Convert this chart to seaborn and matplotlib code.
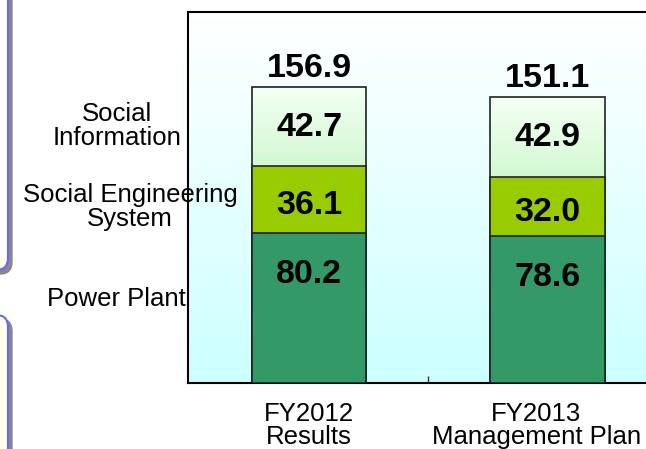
import numpy as np
import pandas as pd
import seaborn as sns
import matplotlib.pyplot as plt
from matplotlib.patches import FancyBboxPatch
from matplotlib.colors import LinearSegmentedColormap

# data
periods = ["FY2012\nResults", "FY2013\nManagement Plan"]
power_plant = [80.2, 78.6]
social_eng = [36.1, 32.0]
social_info = [42.7, 42.9]
totals = [156.9, 151.1]
segments = ["Social\nInformation", "Social Engineering\nSystem", "Power Plant"]

df = pd.DataFrame({"period": periods, "power": power_plant,
                   "eng": social_eng, "info": social_info})
df["mid"] = df["power"] + df["eng"]
df["top"] = df["mid"] + df["info"]

sns.set_style("white")
plt.rcParams['font.family'] = ['Liberation Sans', 'DejaVu Sans']
plt.rcParams['text.color'] = 'black'

fig = plt.figure(figsize=(6.46, 4.49), dpi=100)
ax = fig.add_axes([188/646, 66/449, 481/646, 371/449])

# slide decoration boxes on the left edge
for (y0, y1, fc) in [(-50, 270, "white"), (315, 500, "#fffff0")]:
    sh = FancyBboxPatch((-60, 449 - y1 - 4), 72, y1 - y0, boxstyle="round,pad=0,rounding_size=12",
                        transform=None, fc="#888888", ec="#888888", lw=1, zorder=0)
    bx = FancyBboxPatch((-64, 449 - y1), 72, y1 - y0, boxstyle="round,pad=0,rounding_size=12",
                        transform=None, fc=fc, ec="#6666ff", lw=1.5, zorder=0)
    fig.patches.extend([sh, bx])

ymax = 199
# background gradient
grad = np.linspace(0, 1, 256).reshape(-1, 1)
bg_cmap = LinearSegmentedColormap.from_list("bg", ["#ccffff", "#ffffff"])
ax.imshow(grad, cmap=bg_cmap, aspect="auto", origin="lower",
          extent=[-0.508, 1.51, 0, ymax], zorder=0)

w = 0.48
sns.barplot(data=df, x="period", y="top", color="#e0ffe0", edgecolor="#222222",
            linewidth=1.2, width=w, saturation=1, ax=ax, zorder=2)
sns.barplot(data=df, x="period", y="mid", color="#99cc00", edgecolor="#222222",
            linewidth=1.2, width=w, saturation=1, ax=ax, zorder=3)
sns.barplot(data=df, x="period", y="power", color="#339966", edgecolor="#222222",
            linewidth=1.2, width=w, saturation=1, ax=ax, zorder=4)

# gradient on the top segment
seg_cmap = LinearSegmentedColormap.from_list("seg", ["#d2f9d2", "#f4fff4"])
for i, p in enumerate(ax.patches[:2]):
    p.set_facecolor("none")
    im = ax.imshow(grad, cmap=seg_cmap, aspect="auto", origin="lower",
                   extent=[i - w/2, i + w/2, df["mid"][i], df["top"][i]], zorder=1.5)
    im.set_clip_path(p)

for i in range(len(periods)):
    kw = dict(ha="center", va="center", fontsize=24.5, fontweight="bold", color="black", zorder=6)
    ax.text(i, totals[i] + 12, f"{totals[i]:.1f}", **kw)
    ax.text(i, df["mid"][i] + social_info[i] / 2 - 0.5, f"{social_info[i]:.1f}", **kw)
    ax.text(i, power_plant[i] + social_eng[i] / 2 - 3, f"{social_eng[i]:.1f}", **kw)
    ax.text(i, power_plant[i] - 22, f"{power_plant[i]:.1f}", **kw)

ax.set_xlim(-0.508, 1.51)
ax.set_ylim(0, ymax)
ax.set_xlabel("")
ax.set_ylabel("")
ax.set_yticks([])
ax.set_xticks([0.5])
ax.set_xticklabels([""])
ax.tick_params(axis="x", direction="in", length=5, width=1, color="#333333", bottom=True)
for s in ["left", "top", "bottom"]:
    ax.spines[s].set_color("black")
    ax.spines[s].set_linewidth(1.5)
ax.spines["right"].set_visible(False)

# category labels; the second one sits a little left of its bar, as in the slide
for i, lab in enumerate(periods):
    ax.text(i - 0.047 * i, -10, lab, ha="center", va="top", fontsize=18.5, linespacing=0.97,
            color="black", clip_on=False)

# segment labels on the left
fig.text(117/646, 1 - 126/449, segments[0], ha="center", va="center", fontsize=18.5, linespacing=0.97)
fig.text(130/646, 1 - 207/449, segments[1], ha="center", va="center", fontsize=18.5, linespacing=0.97, zorder=10)
fig.text(116/646, 1 - 299/449, segments[2], ha="center", va="center", fontsize=18.5)

fig.savefig("out.png", dpi=100)
